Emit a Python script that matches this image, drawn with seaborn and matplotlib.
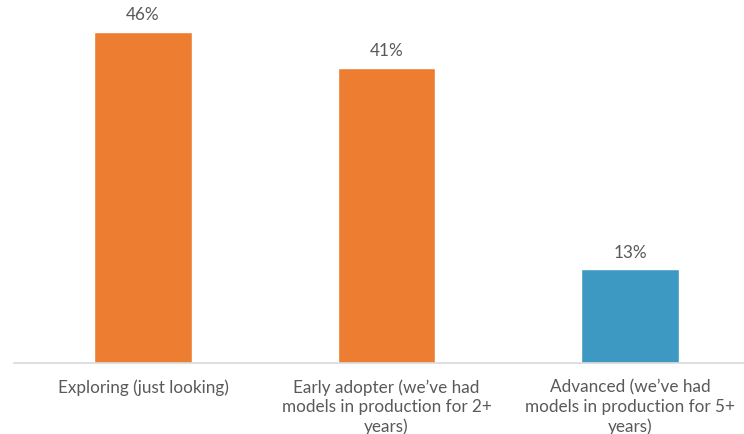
import matplotlib
matplotlib.use("Agg")
import matplotlib.pyplot as plt
import seaborn as sns
import pandas as pd

categories = ["Exploring (just looking)",
              "Early adopter (we\u2019ve had\nmodels in production for 2+\nyears)",
              "Advanced (we\u2019ve had\nmodels in production for 5+\nyears)"]
values = [46, 41, 13]
value_labels = ["46%", "41%", "13%"]
colors = ["#ED7D31", "#ED7D31", "#3D98C2"]

sns.set_theme(style="white")
plt.rcParams['font.family'] = ['Lato', 'DejaVu Sans']

df = pd.DataFrame({"cat": categories, "val": values})

fig = plt.figure(figsize=(7.44, 4.34), dpi=100)
ax = fig.add_axes([14/744, 71/434, 730/744, 360/434])
sns.barplot(data=df, x="cat", y="val", hue="cat", palette=colors,
            width=0.40, legend=False, ax=ax, saturation=1)

ax.set_xlim((14-143)/243.5, (744-143)/243.5)
ax.set_ylim(0, 50)
for s in ["top", "right", "left"]:
    ax.spines[s].set_visible(False)
ax.spines["bottom"].set_color("#D9D9D9")
ax.spines["bottom"].set_linewidth(1.2)
ax.set_yticks([])
ax.set_xlabel("")
ax.set_ylabel("")
ax.tick_params(axis="x", length=0, pad=12, colors="#595959", labelsize=12.3)
for lab in ax.get_xticklabels():
    lab.set_linespacing(1.25)

for i, (v, t) in enumerate(zip(values, value_labels)):
    ax.annotate(t, (i, v), xytext=(0, 6), textcoords="offset points",
                ha="center", va="bottom", fontsize=12.3, color="#595959")

fig.savefig("out.png", dpi=100)
